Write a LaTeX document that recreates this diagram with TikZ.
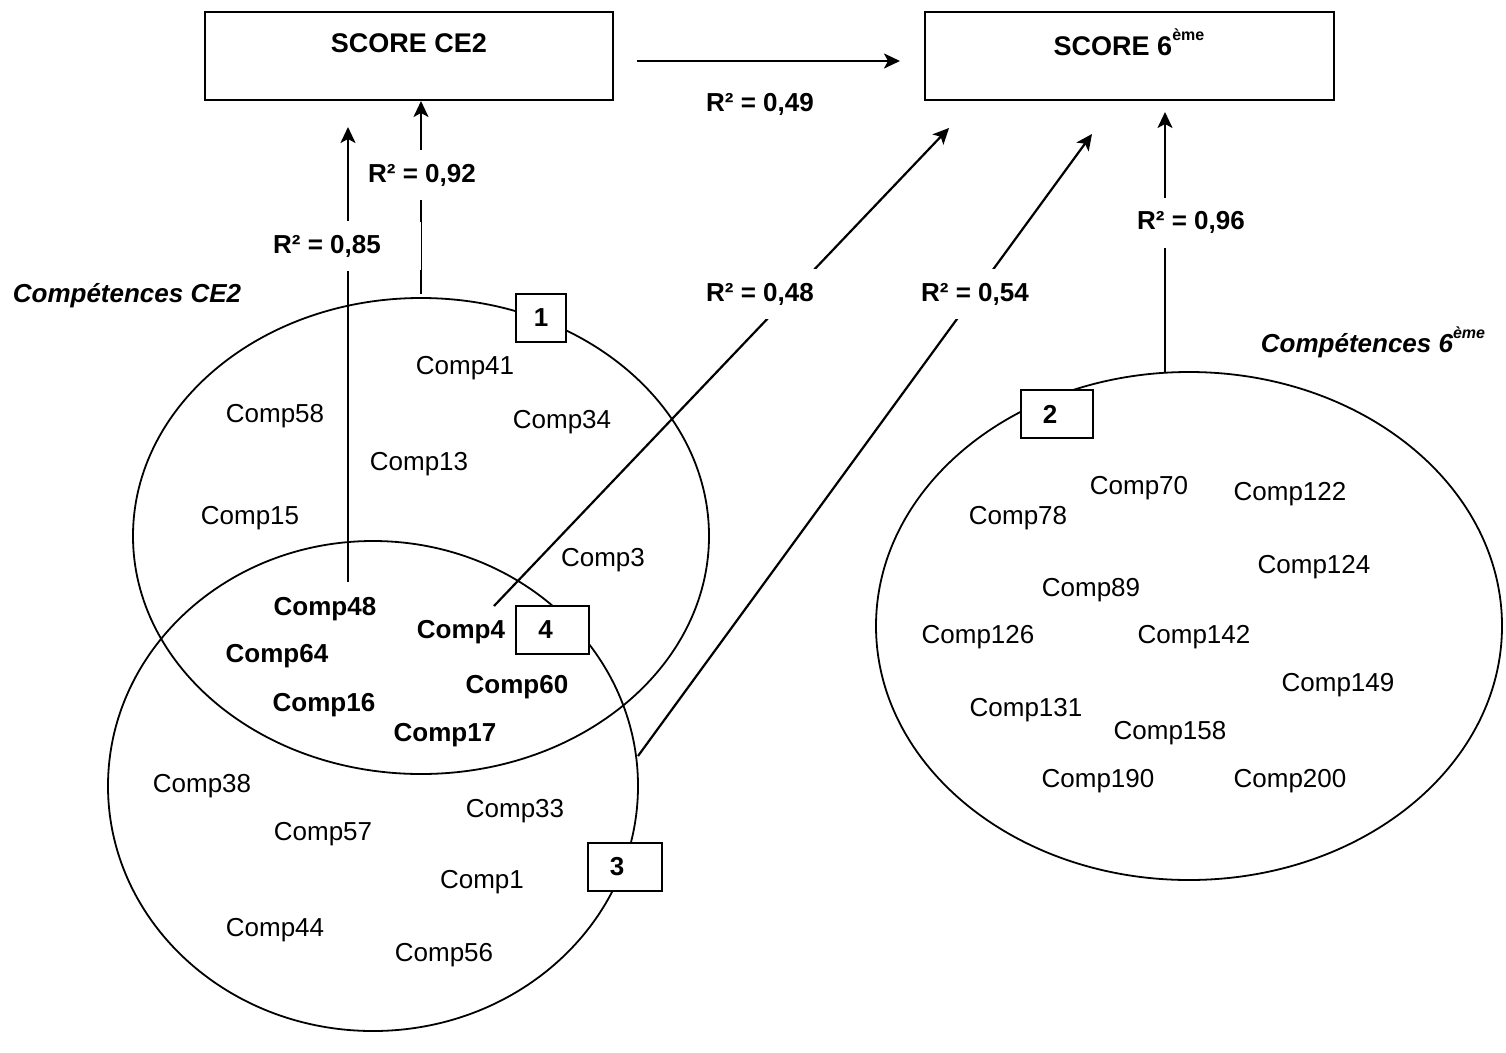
\documentclass[tikz,border=0pt]{standalone}
\usepackage{fontspec}
\setmainfont{Liberation Sans}
\usetikzlibrary{arrows.meta,shapes.geometric}
\newcommand\supeme{\raisebox{0.55em}{\fontsize{16}{16}\selectfont ème}}
\begin{document}
\begin{tikzpicture}[x=1pt,y=-1pt,
  lbl/.style={font=\fontsize{27}{30}\selectfont\bfseries, inner sep=0pt},
  ital/.style={font=\fontsize{26}{30}\selectfont\bfseries\itshape, inner sep=0pt},
  comp/.style={font=\fontsize{26}{30}\selectfont, inner sep=0pt},
  bcomp/.style={font=\fontsize{26}{30}\selectfont\bfseries, inner sep=0pt},
  rsq/.style={font=\fontsize{26}{30}\selectfont\bfseries, fill=white, inner xsep=3pt, inner ysep=0pt, minimum height=50pt},
  numbox/.style={draw, line width=2pt, fill=white, minimum height=48pt, font=\fontsize{26}{30}\selectfont\bfseries, inner sep=0pt},
  scorebox/.style={draw, line width=2pt, minimum height=88pt, inner sep=0pt, fill=white},
  venn/.style={draw, ellipse, line width=1.8pt, inner sep=0pt},
  conn/.style={line width=2.2pt},
  arr/.style={conn, -{Stealth[length=16pt,width=15pt,inset=4pt]}}]
\useasboundingbox (0,0) rectangle (1506,1052);

% ellipses
\node[venn, minimum width=576pt, minimum height=476pt] (E1) at (421,536) {};
\node[venn, minimum width=530pt, minimum height=490pt] (E3) at (373,786) {};
\node[venn, minimum width=626pt, minimum height=508pt] (E2) at (1189,626) {};

% score boxes
\node[scorebox, minimum width=408pt] (CE2) at (409,56) {};
\node[scorebox, minimum width=409pt] (SIX) at (1129.5,56) {};
\node[lbl] (CE2t) at (409,43) {SCORE CE2};
\node[lbl] (SIXt) at (1129,42) {SCORE 6\supeme};

% connector coordinates
\coordinate (a49s) at (637,61);
\coordinate (a49e) at (900,61);
\coordinate (a85s) at (348,582);
\coordinate (a85e) at (348,127);
\coordinate (a92s) at (421,294);
\coordinate (a92m1) at (421,270);
\coordinate (a92m2) at (421,222);
\coordinate (a92e) at (421,101);
\coordinate (a48s) at (494,606);
\coordinate (a48e) at (949,128);
\coordinate (a54s) at (638,756);
\coordinate (a54e) at (1092,134);
\coordinate (a96s) at (1165,373);
\coordinate (a96e) at (1165,112);

% connectors
\draw[arr] (a49s) -- (a49e);
\draw[arr] (a85s) -- (a85e);
\draw[conn] (a92s) -- (a92m1);
\draw[line width=0.8pt] (a92m1) -- (a92m2);
\draw[arr] (a92m2) -- (a92e);
\draw[arr] (a48s) -- (a48e);
\draw[arr] (a54s) -- (a54e);
\draw[arr] (a96s) -- (a96e);

% R2 labels
\node[rsq] (r49) at (760,104) {R² = 0,49};
\node[rsq] (r92) at (422,175) {R² = 0,92};
\node[rsq] (r85) at (327,246) {R² = 0,85};
\node[rsq] (r48) at (760,294) {R² = 0,48};
\node[rsq] (r54) at (975,294) {R² = 0,54};
\node[rsq] (r96) at (1191,222.5) {R² = 0,96};

% group titles
\node[ital] (cce2) at (127,296) {Compétences CE2};
\node[ital] (c6) at (1373,342) {Compétences 6\supeme};

% numbered boxes
\node[numbox, minimum width=50pt] (B1) at (541,318) {1};
\node[numbox, minimum width=73pt] (B4) at (552.5,630) {\hspace*{-14pt}4};
\node[numbox, minimum width=74pt] (B3) at (625,867) {\hspace*{-16pt}3};
\node[numbox, minimum width=72pt] (B2) at (1057,414) {\hspace*{-14pt}2};

% ellipse 1 competences
\node[comp] (c41) at (465,368) {Comp41};
\node[comp] (c58) at (275,416) {Comp58};
\node[comp] (c34) at (562,422) {Comp34};
\node[comp] (c13) at (419,464) {Comp13};
\node[comp] (c15) at (250,518) {Comp15};
\node[comp] (c3) at (603,560) {Comp3};
% intersection
\node[bcomp] (c48) at (325,609) {Comp48};
\node[bcomp] (c64) at (277,656) {Comp64};
\node[bcomp] (c4) at (461,632) {Comp4};
\node[bcomp] (c60) at (517,687) {Comp60};
\node[bcomp] (c16) at (324,705) {Comp16};
\node[bcomp] (c17) at (445,735) {Comp17};
% ellipse 3
\node[comp] (c38) at (202,786) {Comp38};
\node[comp] (c33) at (515,811) {Comp33};
\node[comp] (c57) at (323,834) {Comp57};
\node[comp] (c1) at (482,882) {Comp1};
\node[comp] (c44) at (275,930) {Comp44};
\node[comp] (c56) at (444,955) {Comp56};
% ellipse 2
\node[comp] (c70) at (1139,488) {Comp70};
\node[comp] (c122) at (1290,494) {Comp122};
\node[comp] (c78) at (1018,518) {Comp78};
\node[comp] (c124) at (1314,567) {Comp124};
\node[comp] (c89) at (1091,590) {Comp89};
\node[comp] (c126) at (978,637) {Comp126};
\node[comp] (c142) at (1194,637) {Comp142};
\node[comp] (c149) at (1338,685) {Comp149};
\node[comp] (c131) at (1026,710) {Comp131};
\node[comp] (c158) at (1170,733) {Comp158};
\node[comp] (c190) at (1098,781) {Comp190};
\node[comp] (c200) at (1290,781) {Comp200};
\end{tikzpicture}
\end{document}
